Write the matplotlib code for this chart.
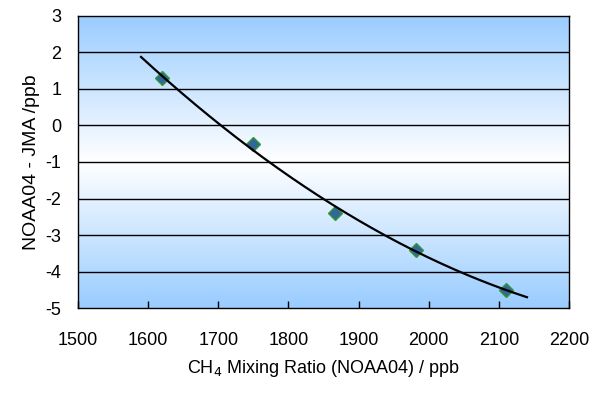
import numpy as np
import matplotlib
matplotlib.use('Agg')
import matplotlib.pyplot as plt
from matplotlib.colors import LinearSegmentedColormap

plt.rcParams['font.family'] = ['Liberation Sans', 'DejaVu Sans']
plt.rcParams['axes.unicode_minus'] = False

# data
ch4 = [1620, 1750, 1867, 1982, 2110]
diff = [1.3, -0.5, -2.4, -3.4, -4.5]
xticks = [1500, 1600, 1700, 1800, 1900, 2000, 2100, 2200]
yticks = [-5, -4, -3, -2, -1, 0, 1, 2, 3]

fig = plt.figure(figsize=(5.99, 3.98), dpi=100)
ax = fig.add_axes([0.130, 0.226, 0.820, 0.734])

# background gradient: blue at top and bottom, white in the middle
cmap = LinearSegmentedColormap.from_list('bg', ['#99ccff', '#ffffff', '#99ccff'])
grad = np.linspace(0, 1, 256).reshape(-1, 1)
ax.imshow(grad, cmap=cmap, aspect='auto', extent=[1500, 2200, -5, 3],
          origin='lower', zorder=0)

for y in yticks[1:-1]:
    ax.axhline(y, color='black', lw=1.0, zorder=1)

# quadratic trend line
coef = np.polyfit(ch4, diff, 2)
xf = np.linspace(1590, 2140, 200)
ax.plot(xf, np.polyval(coef, xf), color='black', lw=1.6, zorder=3)

ax.plot(ch4, diff, 'D', ms=7, mfc='#336699', mec='#339933', mew=1.0,
        ls='none', zorder=2)

ax.set_xlim(1500, 2200)
ax.set_ylim(-5, 3)
ax.set_xticks(xticks)
ax.set_yticks(yticks)
ax.tick_params(axis='x', direction='in', length=5, width=1, labelsize=13, pad=17)
ax.tick_params(axis='y', length=0, labelsize=13, pad=12)
for s in ax.spines.values():
    s.set_linewidth(1.0)

ax.set_xlabel('CH$_4$ Mixing Ratio (NOAA04) / ppb', fontsize=13, labelpad=7)
ax.set_ylabel('NOAA04 - JMA /ppb', fontsize=14, labelpad=4)

fig.savefig('out.png', dpi=100)
